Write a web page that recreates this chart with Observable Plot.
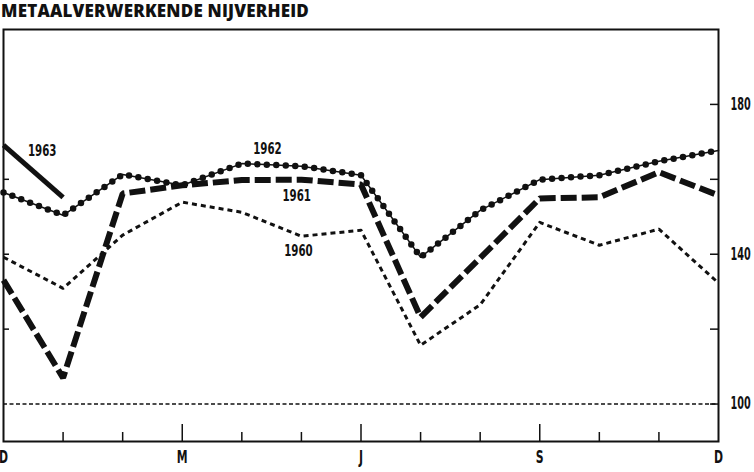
<!DOCTYPE html>
<html>
<head>
<meta charset="utf-8">
<script src="https://cdn.jsdelivr.net/npm/d3@7"></script>
<script src="https://cdn.jsdelivr.net/npm/@observablehq/plot@0.6"></script>
<style>
  html, body { margin: 0; padding: 0; background: #fff; }
  #title { height: 20px; line-height: 21px; font-family: "Open Sans", "DejaVu Sans", sans-serif; font-weight: 800; font-size: 17px; color: #111; margin-left: 1px; white-space: nowrap; letter-spacing: 0.2px; }
</style>
</head>
<body>
<div id="title">METAALVERWERKENDE NIJVERHEID</div>
<div id="chart"></div>
<script>
// Months from December (0) to December (12)
const months = [0, 1, 2, 3, 4, 5, 6, 7, 8, 9, 10, 11, 12];
const v1960 = [139.2, 130.9, 145.1, 153.9, 151.2, 144.8, 146.4, 115.7, 126.5, 148.5, 142.4, 146.7, 132.3];
const v1961 = [133.1, 107.0, 156.2, 158.4, 159.8, 159.9, 158.6, 123.2, 139.0, 154.9, 155.2, 161.9, 155.7];
const v1962 = [156.5, 150.4, 161.3, 158.4, 164.2, 163.5, 161.1, 139.2, 151.7, 159.9, 161.1, 164.8, 167.7];
const months1963 = [0, 1];
const v1963 = [169.1, 155.2];

const monthTickLabels = [{m: 0, t: "D"}, {m: 3, t: "M"}, {m: 6, t: "J"}, {m: 9, t: "S"}, {m: 12, t: "D"}];
const minorMonths = [1, 2, 4, 5, 7, 8, 10, 11];
const majorMonths = [3, 6, 9];
const yTickValues = [100, 120, 140, 160, 180];
const yLeftTicks = [120, 140, 160];
const yLabels = [100, 140, 180];
const baseLine = [100];
const seriesLabels = [
  {m: 0.65, v: 167.7, t: "1963"},
  {m: 4.43, v: 168.0, t: "1962"},
  {m: 4.92, v: 155.7, t: "1961"},
  {m: 4.95, v: 141.0, t: "1960"}
];

const toRows = (xs, vs) => xs.map((m, i) => ({m, v: vs[i]}));
const d1960 = toRows(months, v1960);
const d1961 = toRows(months, v1961);
const d1962 = toRows(months, v1962);
const d1963 = toRows(months1963, v1963);

const W = 754, H = 452;
const mT = 9, mB = 31, mL = 3, mR = 36;
const fw = W - mL - mR, fh = H - mT - mB;
const ink = "#111";
const font = "'DejaVu Sans', sans-serif";

const chart = Plot.plot({
  width: W,
  height: H,
  marginTop: mT, marginBottom: mB, marginLeft: mL, marginRight: mR,
  x: {domain: [0, 12], axis: null},
  y: {domain: [90, 200], axis: null},
  style: {fontFamily: font, fontWeight: "bold", color: ink, background: "#fff", overflow: "visible"},
  marks: [
    Plot.ruleY(baseLine, {y: d => d, stroke: ink, strokeWidth: 1.5, strokeDasharray: "4,2.5"}),
    Plot.line(d1960, {x: "m", y: "v", stroke: ink, strokeWidth: 3, strokeDasharray: "5,4", strokeLinecap: "butt"}),
    Plot.line(d1961, {x: "m", y: "v", stroke: ink, strokeWidth: 6, strokeDasharray: "16,5", strokeLinecap: "butt", strokeLinejoin: "miter"}),
    Plot.line(d1962, {x: "m", y: "v", stroke: ink, strokeWidth: 1.5}),
    Plot.line(d1962, {x: "m", y: "v", stroke: ink, strokeWidth: 6.5, strokeDasharray: "0,9.5", strokeLinecap: "round"}),
    Plot.line(d1963, {x: "m", y: "v", stroke: ink, strokeWidth: 5, strokeLinecap: "butt"}),
    Plot.tickX(minorMonths, {x: d => d, stroke: ink, strokeWidth: 1.5, insetTop: fh - 9}),
    Plot.tickX(majorMonths, {x: d => d, stroke: ink, strokeWidth: 1.5, insetTop: fh - 17}),
    Plot.tickY(yTickValues, {y: d => d, stroke: ink, strokeWidth: 1.5, insetLeft: fw - 8}),
    Plot.tickY(yLeftTicks, {y: d => d, stroke: ink, strokeWidth: 1.5, insetRight: fw - 6}),
    Plot.frame({stroke: ink, strokeWidth: 2}),
    Plot.text(yLabels, {y: d => d, text: d => String(d), frameAnchor: "right", dx: 12, textAnchor: "start", fontSize: 17, fill: ink, className: "narrowY"}),
    Plot.text(monthTickLabels, {x: "m", text: "t", frameAnchor: "bottom", dy: 21, fontSize: 17, fill: ink, className: "narrow"}),
    Plot.text(seriesLabels, {x: "m", y: "v", text: "t", fontSize: 16, fill: ink, className: "narrow"})
  ]
});
document.getElementById("chart").appendChild(chart);
// condensed look, like the original's narrow bold lettering (horizontal scale about each text's anchor)
function condense(sel, k) {
  d3.select(chart).selectAll(sel).each(function () {
    const t = this.getAttribute("transform");
    if (t) {
      this.setAttribute("transform", `${t} scale(${k},1)`);
    } else {
      const x = +(this.getAttribute("x") || 0), y = +(this.getAttribute("y") || 0);
      this.setAttribute("x", 0); this.setAttribute("y", 0);
      this.setAttribute("transform", `translate(${x},${y}) scale(${k},1)`);
    }
  });
}
condense(".narrow text", 0.64);
condense(".narrowY text", 0.57);
</script>
</body>
</html>
